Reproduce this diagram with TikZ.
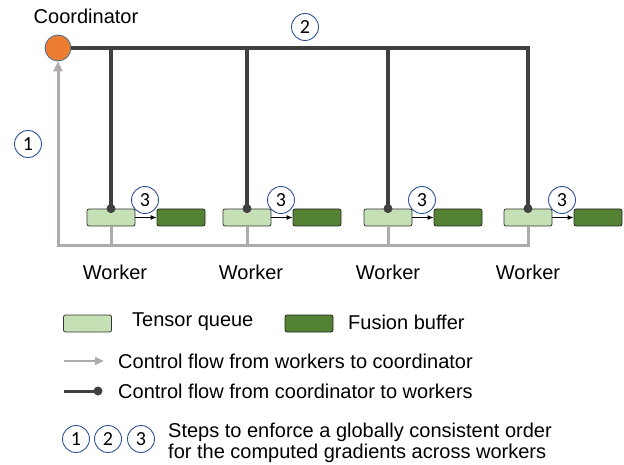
\documentclass[tikz,border=0pt]{standalone}
\usepackage{fontspec}
\setmainfont{Liberation Sans}
\newfontfamily\numfont{Carlito}
\usetikzlibrary{arrows.meta,calc}
\definecolor{orangec}{RGB}{237,125,49}
\definecolor{orangeb}{RGB}{65,113,156}
\definecolor{queuec}{RGB}{197,224,180}
\definecolor{bufferc}{RGB}{84,130,53}
\definecolor{grayflow}{RGB}{175,171,171}
\definecolor{darkflow}{RGB}{64,64,64}
\definecolor{stepblue}{RGB}{47,85,151}
\tikzset{
  lbl/.style={font=\fontsize{20}{21}\selectfont, inner sep=0pt},
  queuebox/.style={draw=black!80, line width=0.8pt, fill=queuec, rounded corners=2pt, minimum width=48pt, minimum height=17pt, inner sep=0pt},
  bufferbox/.style={draw=black!85, line width=0.8pt, fill=bufferc, rounded corners=2pt, minimum width=48pt, minimum height=17pt, inner sep=0pt},
  stepc/.style={circle, draw=stepblue, line width=0.9pt, fill=white, minimum size=27pt, inner sep=0pt, font=\numfont\fontsize{20}{20}\selectfont},
  ctrl/.style={draw=darkflow, line width=3.5pt},
  fb/.style={draw=grayflow, line width=3pt},
  qarrow/.style={draw=black, line width=1pt, -{Latex[length=6pt,width=5pt]}},
}
\begin{document}
\begin{tikzpicture}[x=1pt,y=-1pt]
\useasboundingbox (0,0) rectangle (624,465);
% coordinator
\node[circle, fill=orangec, draw=orangeb, line width=0.8pt, minimum size=26pt, inner sep=0pt] (coord) at (58,48) {};
\node[lbl] (coordlbl) at (86,16) {Coordinator};
% workers
\foreach \i/\x/\wx in {1/111/115, 2/247/251, 3/388/388, 4/528/528} {
  \node[queuebox] (q\i) at (\x,217.5) {};
  \node[bufferbox] (b\i) at (\x+70,217.5) {};
  \node[lbl] (w\i) at (\wx,272.5) {Worker};
}
\coordinate (bl) at (58,246);
% gray control flow (workers -> coordinator)
\draw[fb] (q1.south) -- (q1.south |- bl);
\draw[fb] (q2.south) -- (q2.south |- bl);
\draw[fb] (q3.south) -- (q3.south |- bl);
\draw[fb, -{Triangle[length=10pt,width=9pt]}] (q4.south) |- (bl) -- (coord.south);
% dark control flow (coordinator -> workers)
\draw[ctrl] (coord.east) -- (q4.north |- coord) -- (q4.north);
\draw[ctrl] (q1.north |- coord) -- (q1.north);
\draw[ctrl] (q2.north |- coord) -- (q2.north);
\draw[ctrl] (q3.north |- coord) -- (q3.north);
\foreach \i in {1,2,3,4} {
  \fill[darkflow] (q\i.north) circle (4.5pt);
  \draw[qarrow] (q\i.east) -- (b\i.west);
  \node[stepc] (s3\i) at ($(q\i.center)+(34,-17.5)$) {3};
}
% steps 1 and 2
\node[stepc] (s1) at (28,144) {1};
\node[stepc] (s2) at (305,27) {2};
% legend
\node[queuebox] (lq) at (87.5,323.5) {};
\node[lbl, anchor=west] (lqt) at (132,322) {Tensor queue};
\node[bufferbox] (lb) at (309,323.5) {};
\node[lbl, anchor=west] (lbt) at (348,322) {Fusion buffer};
\coordinate (ga1) at (64,361);
\coordinate (ga2) at (104,361);
\draw[fb, line width=2.5pt, -{Triangle[length=9pt,width=8pt]}] (ga1) -- (ga2);
\node[lbl, anchor=west] (gat) at (118,361) {Control flow from workers to coordinator};
\coordinate (da1) at (64,391);
\coordinate (da2) at (98,391);
\draw[ctrl, line width=3pt] (da1) -- (da2);
\fill[darkflow] (da2) circle (4.5pt);
\node[lbl, anchor=west] (dat) at (118,391) {Control flow from coordinator to workers};
\node[stepc] (ls1) at (76,439) {1};
\node[stepc] (ls2) at (108,439) {2};
\node[stepc] (ls3) at (141,439) {3};
\node[lbl, anchor=base west] (lst1) at (168,437) {Steps to enforce a globally consistent order};
\node[lbl, anchor=base west] (lst2) at (168,458) {for the computed gradients across workers};
\end{tikzpicture}
\end{document}
